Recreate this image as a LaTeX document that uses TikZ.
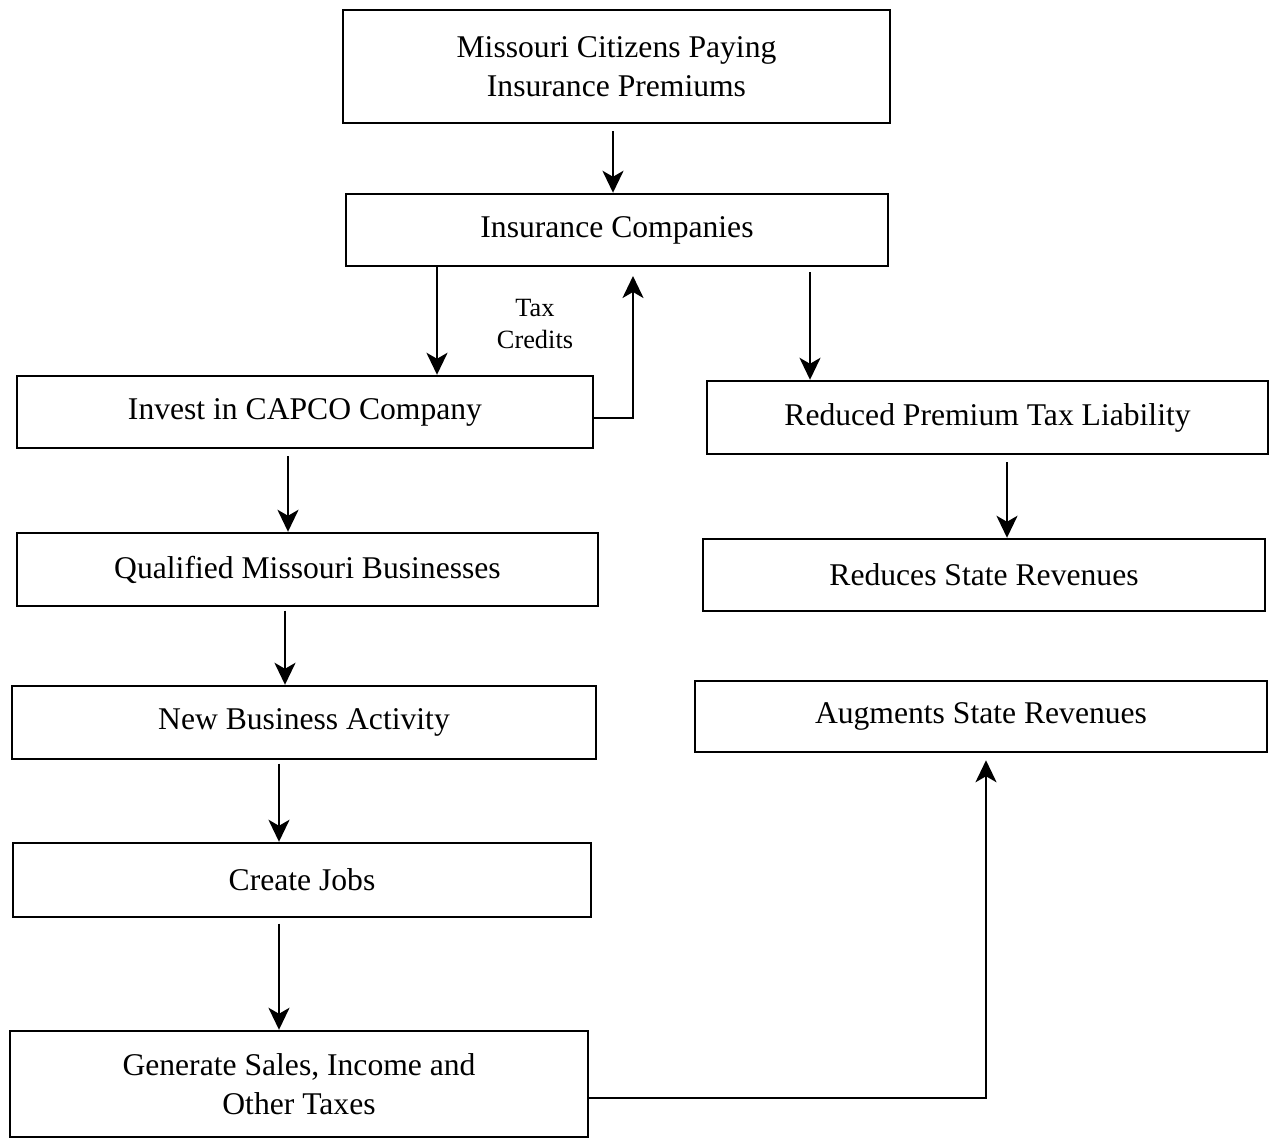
\documentclass[tikz,border=0pt]{standalone}
\usepackage{fontspec}
\setmainfont{Liberation Serif}
\usetikzlibrary{arrows.meta,calc}
\begin{document}
\begin{tikzpicture}[x=0.02cm,y=-0.02cm,
  box/.style={draw,line width=1.4pt,rectangle,inner sep=0pt,align=center,font=\fontsize{18}{22.5}\selectfont},
  arr/.style={line width=1.4pt,-{Stealth[length=0.44cm,width=0.42cm,inset=0.12cm]}},
  lbl/.style={align=center,font=\fontsize{15}{18}\selectfont,inner sep=0pt}]
\useasboundingbox (0,0) rectangle (1275,1139);
\node[box,minimum width=10.94cm,minimum height=2.26cm] (b1) at (616.5,66.5) {Missouri Citizens Paying\\Insurance Premiums};
\node[box,minimum width=10.84cm,minimum height=1.44cm] (b2) at (617,230) {Insurance Companies};
\node[box,minimum width=11.52cm,minimum height=1.44cm] (b3) at (305,412) {Invest in CAPCO Company};
\node[box,minimum width=11.22cm,minimum height=1.46cm] (b4) at (987.5,417.5) {Reduced Premium Tax Liability};
\node[box,minimum width=11.62cm,minimum height=1.46cm] (b5) at (307.5,569.5) {Qualified Missouri Businesses};
\node[box,minimum width=11.24cm,minimum height=1.44cm] (b6) at (984,575) {Reduces State Revenues};
\node[box,minimum width=11.68cm,minimum height=1.46cm] (b7) at (304,722.5) {New Business Activity};
\node[box,minimum width=11.44cm,minimum height=1.42cm] (b8) at (981,716.5) {Augments State Revenues};
\node[box,minimum width=11.56cm,minimum height=1.48cm] (b9) at (302,880) {Create Jobs};
\node[box,minimum width=11.56cm,minimum height=2.12cm] (b10) at (299,1084) {Generate Sales, Income and\\Other Taxes};
\node[lbl] (tc) at (535,324) {Tax\\Credits};
% connector columns
\coordinate (xa) at (613,0);
\coordinate (xb) at (437,0);
\coordinate (xc) at (633,418);
\coordinate (xd) at (810,0);
\coordinate (xe) at (1007,0);
\coordinate (xf) at (288,0);
\coordinate (xg) at (285,0);
\coordinate (xh) at (279,0);
\coordinate (xi) at (986,1098);
\draw[arr,shorten <=4pt] (b1.south -| xa) -- (b2.north -| xa);
\draw[arr] (b2.south -| xb) -- (b3.north -| xb);
\draw[arr,shorten >=5pt] (b3.east |- xc) -- (xc) -- (b2.south -| xc);
\draw[arr,shorten <=3pt] (b2.south -| xd) -- (b4.north -| xd);
\draw[arr,shorten <=4pt] (b4.south -| xe) -- (b6.north -| xe);
\draw[arr,shorten <=4pt] (b3.south -| xf) -- (b5.north -| xf);
\draw[arr,shorten <=2pt] (b5.south -| xg) -- (b7.north -| xg);
\draw[arr,shorten <=2pt] (b7.south -| xh) -- (b9.north -| xh);
\draw[arr,shorten <=3pt] (b9.south -| xh) -- (b10.north -| xh);
\draw[arr,shorten >=4pt] (b10.east |- xi) -- (xi) -- (b8.south -| xi);
\end{tikzpicture}
\end{document}
